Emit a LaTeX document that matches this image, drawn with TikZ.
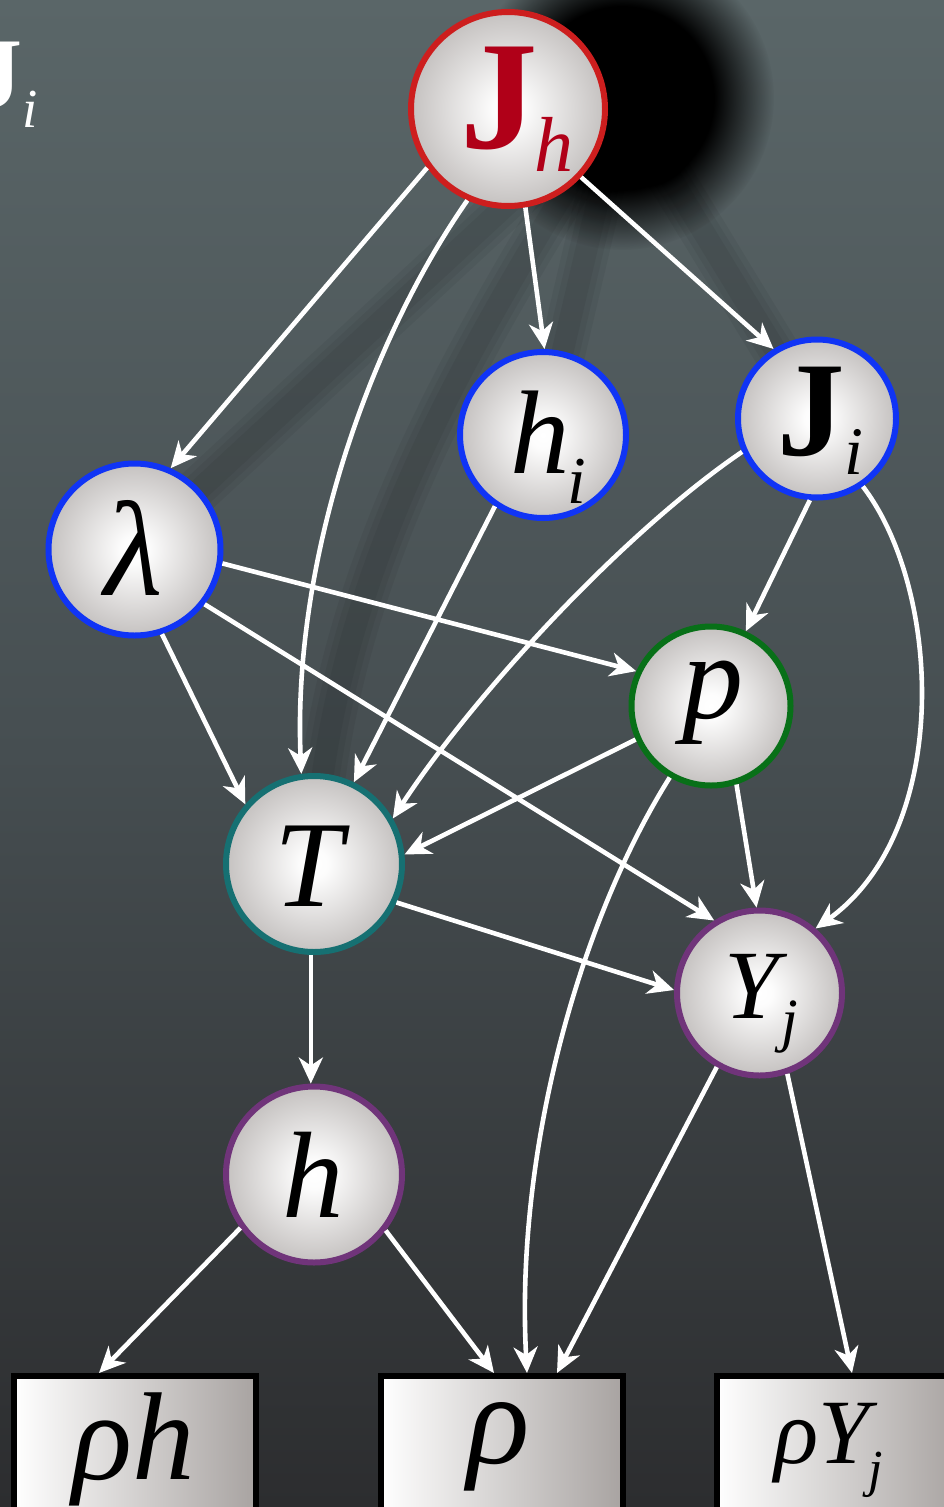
\documentclass[tikz,border=0pt]{standalone}
\usepackage{fontspec}
\setmainfont{Liberation Serif}[
  UprightFont={Liberation Serif},
  BoldFont={Liberation Serif Bold},
  ItalicFont={Liberation Serif Italic},
  BoldItalicFont={Liberation Serif Bold Italic}]
\usetikzlibrary{arrows.meta,calc,fadings}

\definecolor{bgtop}{RGB}{90,102,104}
\definecolor{bgmid}{RGB}{70,78,81}
\definecolor{bgbot}{RGB}{44,45,47}
\definecolor{ballgray}{RGB}{168,163,161}
\definecolor{boxgray}{RGB}{168,163,161}
\definecolor{boxmid}{RGB}{212,210,209}
\definecolor{jhred}{RGB}{205,30,30}
\definecolor{jhtext}{RGB}{176,0,24}
\definecolor{nblue}{RGB}{16,52,245}
\definecolor{ngreen}{RGB}{8,112,24}
\definecolor{nteal}{RGB}{22,112,114}
\definecolor{npurple}{RGB}{112,52,122}

\pgfdeclareradialshading{nodeball}{\pgfpointorigin}{color(0bp)=(white); color(4bp)=(white!97!ballgray); color(36bp)=(ballgray); color(50bp)=(ballgray)}
\pgfdeclareradialshading{blobsh}{\pgfpointorigin}{color(0bp)=(white); color(15bp)=(white); color(25bp)=(black); color(50bp)=(black)}
\pgfdeclarefading{blobfade}{\pgfuseshading{blobsh}}

\newcommand\lbl[4]{\makebox[0pt][l]{\hspace*{#1pt}\raisebox{#2pt}[0pt][0pt]{\fontsize{#3pt}{#3pt}\selectfont #4}}}

\pgfdeclarelayer{bglayer}
\pgfdeclarelayer{shadowlayer}
\pgfsetlayers{bglayer,shadowlayer,main}

\begin{document}
\begin{tikzpicture}[x=1pt,y=-1pt,
  ball/.style={circle, draw=#1, line width=6pt, shade, shading=nodeball, inner sep=0pt, text=black},
  box/.style={rectangle, draw=black, line width=6pt, left color=white, middle color=boxmid, right color=boxgray,
    minimum width=242pt, minimum height=250pt, inner sep=0pt, text=black},
  edge/.style={draw=white, line width=4.6pt, -{Stealth[length=26pt,width=24pt,inset=8pt]}},
  eshadow/.style={draw=black, line width=#1, draw opacity=0.05, line cap=round}
]
\useasboundingbox (0,0) rectangle (944,1507);
\clip (0,0) rectangle (944,1507);

% nodes
\node[ball=jhred, minimum size=194pt, text=jhtext] (jh) at (508,109)
  {\lbl{-48}{-39}{155}{\bfseries J}\lbl{26}{-62}{78}{\itshape h}};
\node[ball=nblue, minimum size=166pt] (hi) at (543,435)
  {\lbl{-33}{-38}{119}{\itshape h}\lbl{24}{-68}{67}{\itshape i}};
\node[ball=nblue, minimum size=158pt] (Ji) at (817,418.5)
  {\lbl{-40}{-36.5}{135}{\bfseries J}\lbl{27}{-55.5}{68}{\itshape i}};
\node[ball=nblue, minimum size=172pt] (lam) at (134.5,549.5)
  {\lbl{-30}{-45.5}{135}{\itshape λ}};
\node[ball=ngreen, minimum size=159pt] (p) at (711,706)
  {\lbl{-29}{-12}{122}{\itshape p}};
\node[ball=nteal, minimum size=176pt] (T) at (314,864)
  {\lbl{-40}{-42}{123}{\itshape T}};
\node[ball=npurple, minimum size=165pt] (Yj) at (759.5,993)
  {\lbl{-35}{-25}{98}{\itshape Y}\lbl{22}{-47}{60}{\itshape j}};
\node[ball=npurple, minimum size=176pt] (h) at (314,1174.5)
  {\lbl{-32}{-42.5}{123}{\itshape h}};

\node[box] (rhoh) at (135,1501) {\lbl{-63}{22}{125}{\itshape ρh}};
\node[box] (rho) at (501.5,1501) {\lbl{-34.5}{38}{130}{\itshape ρ}};
\node[box] (rhoY) at (838,1501) {\lbl{-64}{38}{92}{\itshape ρY}\lbl{30}{15}{52}{\itshape j}};

\node[inner sep=0pt, text=white] (legend) at (0,100)
  {\lbl{-28}{-7}{100}{\bfseries J}\lbl{23}{-27}{55}{\itshape i}};

% background and shadows
\begin{pgfonlayer}{bglayer}
  \shade[top color=bgtop, bottom color=bgmid] (0,0) rectangle (944,754);
  \shade[top color=bgmid, bottom color=bgbot] (0,753) rectangle (944,1507);
\end{pgfonlayer}
\begin{pgfonlayer}{shadowlayer}
  \coordinate (shc) at (622,98);
  \fill[black, path fading=blobfade, fit fading=true] (shc) circle (152);
  \foreach \w in {46,34,22}{
    \draw[eshadow=\w pt] (shc) -- (lam.center);
    \draw[eshadow=\w pt] (shc) -- (hi.center);
    \draw[eshadow=\w pt] (shc) -- (Ji.center);
    \draw[eshadow=\w pt] (shc) .. controls (480,330) and (330,560) .. (T.center);
  }
\end{pgfonlayer}

% edges
\draw[edge] (jh.216) -- (lam.66);
\draw[edge] (jh.246) .. controls (370,340) and (292,560) .. (T.98);
\draw[edge] (jh.280) -- (hi.89);
\draw[edge] (jh.317) -- (Ji.122);
\draw[edge] (hi.236) -- (T.64);
\draw[edge] (Ji.204) .. controls (620,535) and (470,700) .. (T.30);
\draw[edge] (Ji.265) -- (p.65);
\draw[edge] (Ji.304) .. controls (942,590) and (952,830) .. (Yj.49);
\draw[edge] (lam.351) -- (p.155);
\draw[edge] (lam.288) -- (T.139);
\draw[edge] (lam.322) -- (Yj.122);
\draw[edge] (p.204) -- (T.6);
\draw[edge] (p.288) -- (Yj.92);
\draw[edge] (p.240) .. controls (580,920) and (515,1150) .. ($(rho.north)+(25.5,0)$);
\draw[edge] (T.335) -- (Yj.178);
\draw[edge] (T.268) -- (h.92);
\draw[edge] (Yj.240) -- ($(rho.north)+(55.5,0)$);
\draw[edge] (Yj.289) -- ($(rhoY.north)+(14,0)$);
\draw[edge] (h.216) -- ($(rhoh.north)+(-36,0)$);
\draw[edge] (h.322) -- ($(rho.north)+(-7.5,0)$);
\end{tikzpicture}
\end{document}
